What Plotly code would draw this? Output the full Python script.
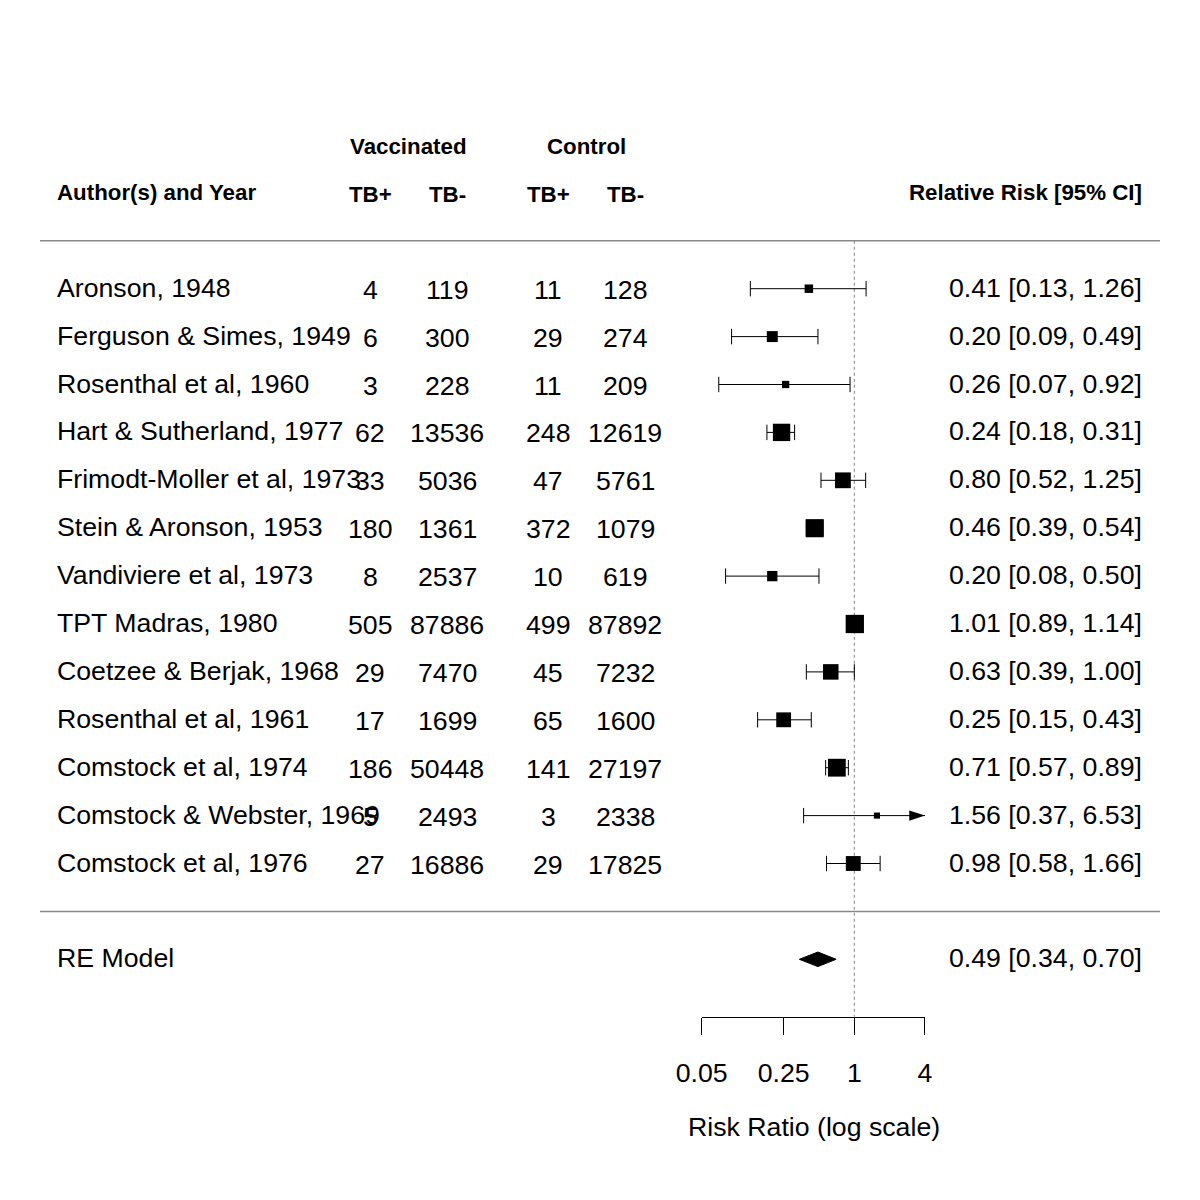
import numpy as np
import plotly.graph_objects as go

# ---------------- data ----------------
authors = ["Aronson, 1948", "Ferguson & Simes, 1949", "Rosenthal et al, 1960",
           "Hart & Sutherland, 1977", "Frimodt-Moller et al, 1973", "Stein & Aronson, 1953",
           "Vandiviere et al, 1973", "TPT Madras, 1980", "Coetzee & Berjak, 1968",
           "Rosenthal et al, 1961", "Comstock et al, 1974", "Comstock & Webster, 1969",
           "Comstock et al, 1976"]
vacc_pos = [4, 6, 3, 62, 33, 180, 8, 505, 29, 17, 186, 5, 27]
vacc_neg = [119, 300, 228, 13536, 5036, 1361, 2537, 87886, 7470, 1699, 50448, 2493, 16886]
ctrl_pos = [11, 29, 11, 248, 47, 372, 10, 499, 45, 65, 141, 3, 29]
ctrl_neg = [128, 274, 209, 12619, 5761, 1079, 619, 87892, 7232, 1600, 27197, 2338, 17825]
rr = [0.41, 0.20, 0.26, 0.24, 0.80, 0.46, 0.20, 1.01, 0.63, 0.25, 0.71, 1.56, 0.98]
ci_low = [0.13, 0.09, 0.07, 0.18, 0.52, 0.39, 0.08, 0.89, 0.39, 0.15, 0.57, 0.37, 0.58]
ci_high = [1.26, 0.49, 0.92, 0.31, 1.25, 0.54, 0.50, 1.14, 1.00, 0.43, 0.89, 6.53, 1.66]
weights = [5.06, 6.36, 4.44, 9.70, 8.87, 10.10, 6.03, 10.19, 8.74, 8.37, 9.93, 3.82, 8.40]
re_label = "RE Model"
re_est, re_low, re_high = 0.49, 0.34, 0.70
tick_vals = [0.05, 0.25, 1, 4]
tick_text = ["0.05", "0.25", "1", "4"]
col_headers = ["TB+", "TB-", "TB+", "TB-"]
group_headers = ["Vaccinated", "Control"]

# ---------------- geometry / style ----------------
W = H = 1200
OFF = 8                     # page body margin
PX_PER_LN = 50.96           # pixels per natural-log unit
X_REF_PX = 854.3 - OFF      # pixel of RR = 1
ROW_PX = 47.9               # pixels per row
ROW0_PX = 911.4 - OFF       # pixel of row 0
FONT = "Liberation Sans, Arial, Helvetica, sans-serif"
FS = 26.7
FS_HEAD = 22.3
PAD = 3                     # annotation inner padding compensation

k = len(authors)
rows = list(range(k, 0, -1))
alim = (tick_vals[0], tick_vals[-1])

x_range = [(-X_REF_PX / PX_PER_LN) / np.log(10), ((W - X_REF_PX) / PX_PER_LN) / np.log(10)]
y_range = [(ROW0_PX - H) / ROW_PX, ROW0_PX / ROW_PX]
axis_px = 1016.7 - OFF
axis_row = (ROW0_PX - axis_px) / ROW_PX

def px(xp):
    return (xp - OFF) / W

fig = go.Figure()

# reference line at RR = 1
fig.add_trace(go.Scatter(x=[1, 1], y=[k + 1, axis_row], mode="lines",
                         line=dict(color="#808080", width=1, dash="dot"),
                         hoverinfo="skip", showlegend=False))

# CI lines
lx, ly = [], []
for lo, hi, r in zip(ci_low, ci_high, rows):
    lx += [max(lo, alim[0]), min(hi, alim[1]), None]
    ly += [r, r, None]
fig.add_trace(go.Scatter(x=lx, y=ly, mode="lines", line=dict(color="black", width=1),
                         hoverinfo="skip", showlegend=False))

# caps
cx, cy = [], []
for lo, hi, r in zip(ci_low, ci_high, rows):
    if lo >= alim[0]:
        cx.append(lo); cy.append(r)
    if hi <= alim[1]:
        cx.append(hi); cy.append(r)
fig.add_trace(go.Scatter(x=cx, y=cy, mode="markers",
                         marker=dict(symbol="line-ns", size=11, opacity=1,
                                     line=dict(color="black", width=1)),
                         hoverinfo="skip", showlegend=False))

# arrows for truncated CIs
ax_, ay_ = [], []
for hi, r in zip(ci_high, rows):
    if hi > alim[1]:
        ax_.append(alim[1]); ay_.append(r)
fig.add_trace(go.Scatter(x=ax_, y=ay_, mode="markers",
                         marker=dict(symbol="arrow", angle=90, size=16.5, color="black", opacity=1,
                                     line=dict(width=0)),
                         hoverinfo="skip", showlegend=False))

# squares sized by weight
w = np.array(weights)
psize = 0.5 + (w - w.min()) / (w.max() - w.min())
fig.add_trace(go.Scatter(x=rr, y=rows, mode="markers",
                         marker=dict(symbol="square", size=12.2 * psize, color="black", opacity=1,
                                     line=dict(width=0)),
                         hoverinfo="skip", showlegend=False))

# summary diamond
dh = 0.152
fig.add_trace(go.Scatter(x=[re_low, re_est, re_high, re_est, re_low],
                         y=[-1, -1 + dh, -1, -1 - dh, -1], mode="lines", fill="toself",
                         fillcolor="black", line=dict(color="black", width=1, simplify=False),
                         hoverinfo="skip", showlegend=False))

# dummy trace on the visible axis subplot
fig.add_trace(go.Scatter(x=[1], y=[0], xaxis="x2", yaxis="y2", mode="markers",
                         marker=dict(opacity=0), hoverinfo="skip", showlegend=False))

ann = []
def txt(x, y, t, anchor="left", size=FS, bold=False, yshift=0):
    xs = {"left": -PAD, "right": PAD, "center": 0}[anchor]
    ann.append(dict(x=x, y=y, xref="paper", yref="y", text=f"<b>{t}</b>" if bold else t,
                    showarrow=False, xanchor=anchor, yanchor="middle", yshift=yshift, xshift=xs,
                    font=dict(family=FONT, size=size, color="black")))

col_x = [370, 447, 548, 625]
for name, a, b, c, d, e, lo, hi, r in zip(authors, vacc_pos, vacc_neg, ctrl_pos, ctrl_neg,
                                          rr, ci_low, ci_high, rows):
    txt(px(58), r, name, yshift=1)
    for val, cxp in zip([a, b, c, d], col_x):
        txt(px(cxp), r, str(val), anchor="center", yshift=-1)
    txt(px(1141), r, f"{e:.2f} [{lo:.2f}, {hi:.2f}]", anchor="right", yshift=1)

txt(px(58), -1, re_label, yshift=1)
txt(px(1141), -1, f"{re_est:.2f} [{re_low:.2f}, {re_high:.2f}]", anchor="right", yshift=1)

txt(px(58), k + 2, "Author(s) and Year", size=FS_HEAD, bold=True)
for h_, cxp in zip(col_headers, col_x):
    txt(px(cxp), k + 2, h_, anchor="center", size=FS_HEAD, bold=True, yshift=-2)
txt(px(1141), k + 2, "Relative Risk [95% CI]", anchor="right", size=FS_HEAD, bold=True)
for g, (c1, c2) in zip(group_headers, [(col_x[0], col_x[1]), (col_x[2], col_x[3])]):
    txt(px((c1 + c2) / 2), k + 3, g, anchor="center", size=FS_HEAD, bold=True, yshift=-1)

# axis title
ann.append(dict(x=px((702 + 925.3) / 2), y=(ROW0_PX - (1127 - OFF)) / ROW_PX, xref="paper", yref="y",
                text="Risk Ratio (log scale)", showarrow=False, xanchor="center",
                yanchor="middle", font=dict(family=FONT, size=FS, color="black")))

shapes = []
for r in [k + 1, 0]:
    shapes.append(dict(type="line", xref="paper", yref="y", x0=px(40), x1=px(1160), y0=r, y1=r,
                       line=dict(color="#888888", width=1.5)))

ax_dom = [(X_REF_PX + PX_PER_LN * np.log(alim[0])) / W, (X_REF_PX + PX_PER_LN * np.log(alim[1])) / W]
ax_pos = (H - axis_px) / H

fig.update_layout(
    width=W, height=H, margin=dict(l=0, r=0, t=0, b=0, pad=0, autoexpand=False),
    paper_bgcolor="white", plot_bgcolor="rgba(0,0,0,0)",
    showlegend=False, annotations=ann, shapes=shapes,
    xaxis=dict(type="log", range=x_range, visible=False, domain=[0, 1], automargin=False),
    yaxis=dict(range=y_range, visible=False, domain=[0, 1], automargin=False),
    xaxis2=dict(type="log", domain=ax_dom, range=[np.log10(alim[0]), np.log10(alim[1])],
                anchor="y2", showline=True, linecolor="black", linewidth=1,
                ticks="outside", ticklen=17, tickwidth=1, tickcolor="black",
                tickvals=tick_vals, ticktext=tick_text, showgrid=False, zeroline=False,
                automargin=False,
                tickfont=dict(family=FONT, size=FS, color="black"), ticklabelstandoff=15),
    yaxis2=dict(domain=[ax_pos, ax_pos + 0.002], anchor="x2", showline=False, showgrid=False,
                zeroline=False, showticklabels=False, ticks="", automargin=False),
    font=dict(family=FONT),
)

fig.write_html("out.html")
